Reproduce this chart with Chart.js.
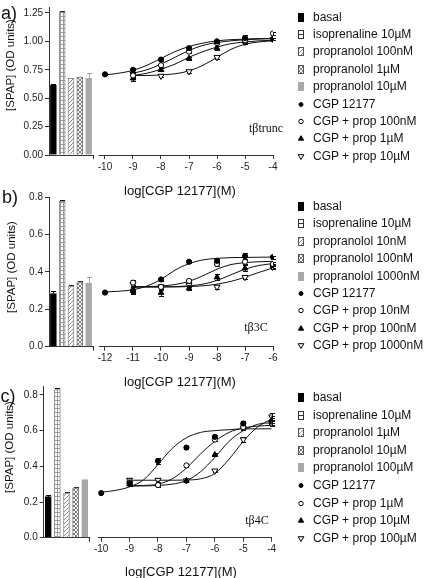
<!DOCTYPE html>
<html>
<head>
<meta charset="utf-8">
<script src="https://cdn.jsdelivr.net/npm/chart.js@4.4.1/dist/chart.umd.min.js"></script>
<style>
body { margin: 0; background: #fff; }
#fig { position: relative; width: 430px; height: 578px; overflow: hidden; background: #fff;
       font-family: "Liberation Sans", Arial, sans-serif; color: #111; }
#fig canvas { position: absolute; }
.t  { position: absolute; white-space: nowrap; line-height: 1; transform: translate(-50%, -50%); }
.lg { position: absolute; white-space: nowrap; line-height: 1; transform: translateY(-50%); font-size: 12px; }
.yt { position: absolute; white-space: nowrap; line-height: 1; transform: translate(-50%, -50%) rotate(-90deg); font-size: 11.5px; }
.tag { font-family: "Liberation Serif", "Times New Roman", serif; font-size: 12px; }
</style>
</head>
<body>
<div id="fig"></div>
<script>
"use strict"

// *** DATA *** //

// a) tβtrunc
const aBarLabels = ["basal", "isoprenaline 10µM", "propranolol 100nM", "propranolol 1µM", "propranolol 10µM"];
const aBarValues = [0.615, 1.26, 0.675, 0.685, 0.675];
const aBarErrors = [0.008, 0.01, 0.004, 0.005, 0.05];
const aPointLabels = ["CGP 12177", "CGP + prop 100nM", "CGP + prop 1µM", "CGP + prop 10µM"];
const aYTicks = [0, 0.25, 0.5, 0.75, 1.0, 1.25];
const aDose = [-10, -9, -8, -7, -6, -5, -4];
const aCgp     = [0.71, 0.75, 0.84, 0.94, 1.00, 1.03, 1.02];
const aCgpErr  = [0.004, 0.02, 0.012, 0.012, 0.01, 0.025, 0.01];
const aLow     = [null, 0.70, 0.79, 0.91, 0.985, 1.01, 1.07];
const aLowErr  = [null, 0.025, 0.012, 0.012, 0.012, 0.02, 0.01];
const aMid     = [null, 0.675, 0.75, 0.85, 0.94, 1.00, 1.02];
const aMidErr  = [null, 0.02, 0.012, 0.015, 0.015, 0.02, 0.01];
const aHigh    = [null, 0.71, 0.695, 0.735, 0.86, 0.995, 1.02];
const aHighErr = [null, 0.02, 0.012, 0.01, 0.012, 0.02, 0.01];
const aCurveX    = [-10, -9.5, -9, -8.5, -8, -7.5, -7, -6.5, -6, -5.5, -5, -4.5, -4];
const aCurveCgp  = [0.705, 0.72, 0.745, 0.79, 0.85, 0.91, 0.955, 0.985, 1.005, 1.015, 1.02, 1.025, 1.025];
const aCurveLow  = [null, null, 0.72, 0.75, 0.80, 0.86, 0.92, 0.965, 0.99, 1.005, 1.015, 1.02, 1.025];
const aCurveMid  = [null, null, 0.70, 0.72, 0.755, 0.80, 0.86, 0.91, 0.95, 0.98, 0.995, 1.005, 1.01];
const aCurveHigh = [null, null, 0.70, 0.70, 0.705, 0.715, 0.74, 0.79, 0.86, 0.93, 0.975, 0.995, 1.005];

// b) tβ3C
const bBarLabels = ["basal", "isoprenaline 10µM", "propranolol 10nM", "propranolol 100nM", "propranolol 1000nM"];
const bBarValues = [0.285, 0.78, 0.325, 0.348, 0.34];
const bBarErrors = [0.012, 0.005, 0.003, 0.003, 0.032];
const bPointLabels = ["CGP 12177", "CGP + prop 10nM", "CGP + prop 100nM", "CGP + prop 1000nM"];
const bYTicks = [0, 0.2, 0.4, 0.6, 0.8];
const bDose = [-12, -11, -10, -9, -8, -7, -6];
const bCgp     = [0.29, 0.30, 0.36, 0.455, 0.46, 0.485, 0.48];
const bCgpErr  = [0.004, 0.02, 0.008, 0.005, 0.01, 0.015, 0.008];
const bLow     = [null, 0.343, 0.32, 0.352, 0.443, 0.455, 0.443];
const bLowErr  = [null, 0.012, 0.01, 0.008, 0.01, 0.01, 0.012];
const bMid     = [null, 0.30, 0.289, 0.313, 0.372, 0.42, 0.432];
const bMidErr  = [null, 0.01, 0.015, 0.008, 0.015, 0.015, 0.01];
const bHigh    = [null, 0.335, 0.322, 0.33, 0.32, 0.372, 0.425];
const bHighErr = [null, 0.012, 0.01, 0.01, 0.01, 0.008, 0.01];
const bCurveX    = [-12, -11.5, -11, -10.5, -10, -9.5, -9, -8.5, -8, -7.5, -7, -6.5, -6];
const bCurveCgp  = [0.293, 0.297, 0.305, 0.325, 0.36, 0.41, 0.445, 0.465, 0.473, 0.477, 0.478, 0.479, 0.48];
const bCurveLow  = [null, null, 0.32, 0.322, 0.325, 0.333, 0.35, 0.38, 0.415, 0.44, 0.45, 0.455, 0.457];
const bCurveMid  = [null, null, 0.32, 0.32, 0.32, 0.322, 0.326, 0.335, 0.355, 0.385, 0.415, 0.435, 0.445];
const bCurveHigh = [null, null, 0.32, 0.32, 0.32, 0.32, 0.322, 0.326, 0.335, 0.35, 0.372, 0.398, 0.422];

// c) tβ4C
const cBarLabels = ["basal", "isoprenaline 10µM", "propranolol 1µM", "propranolol 10µM", "propranolol 100µM"];
const cBarValues = [0.23, 0.83, 0.25, 0.28, 0.325];
const cBarErrors = [0.008, 0.008, 0.006, 0.005, 0];
const cPointLabels = ["CGP 12177", "CGP + prop 1µM", "CGP + prop 10µM", "CGP + prop 100µM"];
const cYTicks = [0, 0.2, 0.4, 0.6, 0.8];
const cDose = [-10, -9, -8, -7, -6, -5, -4];
const cCgp     = [0.25, 0.305, 0.43, 0.505, 0.565, 0.64, 0.65];
const cCgpErr  = [0.004, 0.01, 0.015, 0.008, 0.008, 0.015, 0.02];
const cLow     = [null, 0.31, 0.295, 0.405, 0.55, 0.62, 0.64];
const cLowErr  = [null, 0.01, 0.012, 0.008, 0.01, 0.015, 0.015];
const cMid     = [null, 0.30, 0.30, 0.32, 0.465, 0.63, 0.66];
const cMidErr  = [null, 0.012, 0.012, 0.008, 0.01, 0.015, 0.02];
const cHigh    = [null, 0.323, 0.323, 0.32, 0.375, 0.55, 0.678];
const cHighErr = [null, 0.012, 0.012, 0.008, 0.008, 0.012, 0.02];
const cCurveX    = [-10, -9.5, -9, -8.5, -8, -7.5, -7, -6.5, -6, -5.5, -5, -4.5, -4];
const cCurveCgp  = [0.255, 0.265, 0.285, 0.325, 0.41, 0.50, 0.56, 0.59, 0.60, 0.605, 0.61, 0.61, 0.61];
const cCurveLow  = [null, null, 0.29, 0.293, 0.30, 0.33, 0.39, 0.47, 0.54, 0.59, 0.615, 0.625, 0.63];
const cCurveMid  = [null, null, 0.29, 0.29, 0.293, 0.30, 0.32, 0.37, 0.45, 0.54, 0.60, 0.635, 0.645];
const cCurveHigh = [null, null, 0.322, 0.322, 0.322, 0.322, 0.323, 0.33, 0.36, 0.44, 0.54, 0.62, 0.665];

// *** STYLE *** //

const AX = "#333";
const FONT = '"Liberation Sans", Arial, sans-serif';
const barBorders = ["#000", "#8a8a8a", "#8a8a8a", "#777", "#a9a9a9"];
const barErrColors = ["#000", "#000", "#222", "#222", "#a0a0a0"];
const markers = [
    { pointStyle: "circle", radius: 2.6, bg: "#000", rotation: 0 },
    { pointStyle: "circle", radius: 2.6, bg: "#fff", rotation: 0 },
    { pointStyle: "triangle", radius: 3.3, bg: "#000", rotation: 0 },
    { pointStyle: "triangle", radius: 3.5, bg: "#fff", rotation: 180 }
];

function makePattern(ctx, kind) {
    let c = document.createElement("canvas");
    let x = c.getContext("2d");
    if (kind == 1) { // grid
        c.width = 3; c.height = 4;
        x.fillStyle = "#fff"; x.fillRect(0, 0, 3, 4);
        x.fillStyle = "#999"; x.fillRect(0, 0, 3, 1); x.fillRect(0, 0, 1, 4);
    } else if (kind == 2) { // hatch
        c.width = 4; c.height = 4;
        x.fillStyle = "#fff"; x.fillRect(0, 0, 4, 4);
        x.fillStyle = "#909090";
        for (let i = 0; i < 4; i++) x.fillRect(i, 3 - i, 1, 1);
    } else { // cross
        c.width = 4; c.height = 4;
        x.fillStyle = "#fff"; x.fillRect(0, 0, 4, 4);
        x.fillStyle = "#7a7a7a";
        for (let i = 0; i < 4; i++) { x.fillRect(i, 3 - i, 1, 1); x.fillRect(i, i, 1, 1); }
    }
    return ctx.createPattern(c, "repeat");
}

function barFill(ctx, kind) {
    if (kind == 0) return "#000";
    if (kind == 4) return "#a9a9a9";
    return makePattern(ctx, kind);
}

// error bars drawn under the markers
const errorBars = {
    id: "errorBars",
    beforeDatasetsDraw(chart) {
        let ctx = chart.ctx;
        let y = chart.scales.y;
        ctx.save();
        ctx.lineWidth = 1;
        chart.data.datasets.forEach(function (ds, di) {
            if (!ds.errors) return;
            let meta = chart.getDatasetMeta(di);
            meta.data.forEach(function (el, i) {
                let e = ds.errors[i];
                if (!e) return;
                let v = meta.controller.getParsed(i).y;
                let px = Math.round(el.x) + 0.5;
                let top = Math.round(y.getPixelForValue(v + e)) + 0.5;
                let bot = ds.upOnly ? el.y : Math.round(y.getPixelForValue(v - e)) + 0.5;
                ctx.strokeStyle = Array.isArray(ds.errColor) ? ds.errColor[i] : ds.errColor;
                ctx.beginPath();
                ctx.moveTo(px, bot); ctx.lineTo(px, top);
                ctx.moveTo(px - ds.cap, top); ctx.lineTo(px + ds.cap, top);
                if (!ds.upOnly) { ctx.moveTo(px - ds.cap, bot); ctx.lineTo(px + ds.cap, bot); }
                ctx.stroke();
            });
        });
        ctx.restore();
    }
};

// small tick at the right end of the bar axis
const endTick = {
    id: "endTick",
    afterDraw(chart) {
        let a = chart.chartArea, ctx = chart.ctx;
        ctx.save();
        ctx.strokeStyle = AX; ctx.lineWidth = 1;
        ctx.beginPath();
        ctx.moveTo(Math.round(a.right) + 0.5, a.bottom);
        ctx.lineTo(Math.round(a.right) + 0.5, a.bottom + 4);
        ctx.stroke();
        ctx.restore();
    }
};

const fig = document.getElementById("fig");

function addCanvas(left, top, w, h) {
    let c = document.createElement("canvas");
    c.width = w; c.height = h;
    c.style.left = left + "px"; c.style.top = top + "px";
    c.style.width = w + "px"; c.style.height = h + "px";
    fig.appendChild(c);
    return c;
}

function addText(txt, x, y, cls, size) {
    let d = document.createElement("div");
    d.className = cls;
    d.textContent = txt;
    d.style.left = x + "px"; d.style.top = y + "px";
    if (size) d.style.fontSize = size + "px";
    fig.appendChild(d);
    return d;
}

function noPad(s) { s.paddingTop = 0; s.paddingBottom = 0; s.paddingLeft = 0; s.paddingRight = 0; }

function drawPanel(d, g) {
    // --- bars ---
    let bc = addCanvas(0, g.top, g.barW, g.barH);
    let bctx = bc.getContext("2d");
    new Chart(bc, {
        type: "bar",
        data: {
            labels: d.barLabels,
            datasets: [{
                data: d.barValues,
                errors: d.barErrors, upOnly: true, cap: 2.5, errColor: barErrColors,
                backgroundColor: d.barLabels.map((l, i) => barFill(bctx, i)),
                borderColor: barBorders,
                borderWidth: 1,
                barThickness: 6
            }]
        },
        options: {
            responsive: false, animation: false, events: [],
            layout: { padding: { left: 0, right: g.barW - g.barRight, top: g.areaTop, bottom: 0 } },
            plugins: { legend: { display: false }, tooltip: { enabled: false } },
            scales: {
                x: {
                    grid: { display: false }, ticks: { display: false },
                    border: { display: true, color: AX, width: 1 },
                    afterFit(s) { s.height = g.barH - g.areaBottom; noPad(s); }
                },
                y: {
                    min: 0, max: g.yMax,
                    afterBuildTicks(s) { s.ticks = d.yTicks.map(v => ({ value: v })); },
                    ticks: { callback: v => v.toFixed(g.dec), color: "#222", padding: 2, font: { family: FONT, size: 10 } },
                    grid: { drawOnChartArea: false, tickLength: 4, color: AX },
                    border: { color: AX, width: 1 },
                    afterFit(s) { s.width = g.barLeft; noPad(s); }
                }
            }
        },
        plugins: [errorBars, endTick]
    });

    // --- dose response ---
    let series = [
        { vals: d.cgp, errs: d.cgpErr, curve: d.curveCgp },
        { vals: d.low, errs: d.lowErr, curve: d.curveLow },
        { vals: d.mid, errs: d.midErr, curve: d.curveMid },
        { vals: d.high, errs: d.highErr, curve: d.curveHigh }
    ];
    let datasets = [];
    series.forEach(function (s, k) {
        let curve = [];
        d.curveX.forEach((x, i) => { if (s.curve[i] != null) curve.push({ x: x, y: s.curve[i] }); });
        datasets.push({
            data: curve, showLine: true, pointRadius: 0, borderColor: "#111", borderWidth: 1,
            cubicInterpolationMode: "monotone", order: 2
        });
        let pts = [], errs = [];
        d.dose.forEach((x, i) => { if (s.vals[i] != null) { pts.push({ x: x, y: s.vals[i] }); errs.push(s.errs[i]); } });
        let m = markers[k];
        datasets.push({
            data: pts, showLine: false, errors: errs, cap: 2.5, errColor: "#111",
            pointStyle: m.pointStyle, pointRadius: m.radius, pointRotation: m.rotation,
            pointBackgroundColor: m.bg, pointBorderColor: "#000", pointBorderWidth: 1, order: 1
        });
    });
    let lc = addCanvas(g.lineLeft, g.top, g.lineW, g.lineH);
    new Chart(lc, {
        type: "scatter",
        data: { datasets: datasets },
        options: {
            responsive: false, animation: false, events: [],
            layout: { padding: { left: g.lineAreaL - g.lineLeft, right: g.lineLeft + g.lineW - g.lineAreaR, top: g.areaTop, bottom: 0 } },
            plugins: { legend: { display: false }, tooltip: { enabled: false } },
            scales: {
                x: {
                    type: "linear", min: g.xMin, max: g.xMax,
                    afterBuildTicks(s) { s.ticks = d.dose.map(v => ({ value: v })); },
                    ticks: { callback: v => String(v), color: "#222", padding: 2, maxRotation: 0, autoSkip: false, font: { family: FONT, size: 10 } },
                    grid: { drawOnChartArea: false, tickLength: 4, color: AX },
                    border: { color: AX, width: 1 },
                    afterFit(s) { s.height = g.lineH - g.areaBottom; noPad(s); }
                },
                y: { display: false, min: 0, max: g.yMax }
            }
        },
        plugins: [errorBars]
    });

    // --- texts ---
    addText(g.letter[2], g.letter[0], g.letter[1], "t", 18);
    addText("[SPAP] (OD units)", g.yTitle[0], g.yTitle[1], "yt");
    addText("log[CGP 12177](M)", g.xTitle[0], g.xTitle[1], "t", 13);
    addText(g.tagText, g.tag[0], g.tag[1], "t tag");

    // --- legend ---
    let names = d.barLabels.concat(d.pointLabels);
    names.forEach(function (name, i) {
        let y = g.top + g.legY0 + i * g.legDy;
        let ic = addCanvas(g.legX - 18, Math.round(y) - 6, 12, 12);
        drawIcon(ic.getContext("2d"), i);
        addText(name, g.legX, y, "lg");
    });
}

function drawIcon(c, i) {
    if (i < 5) {
        c.fillStyle = barFill(c, i);
        c.fillRect(3, 2, 6, 9);
        if (i == 1) {
            c.fillStyle = "#fff"; c.fillRect(3, 2, 6, 9);
            c.strokeStyle = "#333"; c.lineWidth = 1;
            c.strokeRect(3.5, 2.5, 5, 8);
            c.beginPath(); c.moveTo(3, 6.5); c.lineTo(9, 6.5); c.stroke();
        } else if (i == 2 || i == 3) {
            c.strokeStyle = "#555"; c.lineWidth = 1;
            c.strokeRect(3.5, 2.5, 5, 8);
        }
        return;
    }
    let m = markers[i - 5];
    c.save();
    c.translate(6, 6.5);
    c.fillStyle = m.bg; c.strokeStyle = "#000"; c.lineWidth = 1;
    c.beginPath();
    if (m.pointStyle == "circle") {
        c.arc(0, 0, i == 5 ? 2 : 2.2, 0, Math.PI * 2);
    } else {
        let r = m.rotation ? 3 : 2.8;
        let s = m.rotation ? -1 : 1;
        c.moveTo(0, -r * s); c.lineTo(r * 0.95, r * 0.6 * s); c.lineTo(-r * 0.95, r * 0.6 * s); c.closePath();
    }
    c.fill(); c.stroke();
    c.restore();
}

// *** PANELS *** //

drawPanel(
    { barLabels: aBarLabels, barValues: aBarValues, barErrors: aBarErrors, pointLabels: aPointLabels, yTicks: aYTicks,
      dose: aDose, cgp: aCgp, cgpErr: aCgpErr, low: aLow, lowErr: aLowErr, mid: aMid, midErr: aMidErr, high: aHigh, highErr: aHighErr,
      curveX: aCurveX, curveCgp: aCurveCgp, curveLow: aCurveLow, curveMid: aCurveMid, curveHigh: aCurveHigh },
    { top: 0, barW: 96, barH: 190, barLeft: 49, barRight: 93, areaTop: 7.3, areaBottom: 155,
      lineLeft: 90, lineW: 190, lineH: 200, lineAreaL: 99.4, lineAreaR: 273,
      yMax: 1.3, xMin: -10.2, xMax: -4, dec: 2,
      letter: [9, 13, "a)"], yTitle: [11, 65], xTitle: [180, 190], tag: [266, 128], tagText: "tβtrunc",
      legX: 313, legY0: 16.5, legDy: 17.4 });

drawPanel(
    { barLabels: bBarLabels, barValues: bBarValues, barErrors: bBarErrors, pointLabels: bPointLabels, yTicks: bYTicks,
      dose: bDose, cgp: bCgp, cgpErr: bCgpErr, low: bLow, lowErr: bLowErr, mid: bMid, midErr: bMidErr, high: bHigh, highErr: bHighErr,
      curveX: bCurveX, curveCgp: bCurveCgp, curveLow: bCurveLow, curveMid: bCurveMid, curveHigh: bCurveHigh },
    { top: 190, barW: 96, barH: 190, barLeft: 49, barRight: 93, areaTop: 7.3, areaBottom: 156.7,
      lineLeft: 90, lineW: 190, lineH: 200, lineAreaL: 99.4, lineAreaR: 273,
      yMax: 0.8, xMin: -12.2, xMax: -6, dec: 1,
      letter: [10, 197, "b)"], yTitle: [12, 267], xTitle: [180, 381], tag: [256, 327], tagText: "tβ3C",
      legX: 313, legY0: 16, legDy: 17.4 });

drawPanel(
    { barLabels: cBarLabels, barValues: cBarValues, barErrors: cBarErrors, pointLabels: cPointLabels, yTicks: cYTicks,
      dose: cDose, cgp: cCgp, cgpErr: cCgpErr, low: cLow, lowErr: cLowErr, mid: cMid, midErr: cMidErr, high: cHigh, highErr: cHighErr,
      curveX: cCurveX, curveCgp: cCurveCgp, curveLow: cCurveLow, curveMid: cCurveMid, curveHigh: cCurveHigh },
    { top: 380, barW: 92, barH: 190, barLeft: 43.7, barRight: 89.3, areaTop: 6, areaBottom: 157.7,
      lineLeft: 90, lineW: 190, lineH: 198, lineAreaL: 98.3, lineAreaR: 271.7,
      yMax: 0.85, xMin: -10.1, xMax: -4, dec: 1,
      letter: [8, 396, "c)"], yTitle: [9.5, 447], xTitle: [181, 571], tag: [257, 520], tagText: "tβ4C",
      legX: 313, legY0: 17, legDy: 17.6 });
</script>
</body>
</html>
